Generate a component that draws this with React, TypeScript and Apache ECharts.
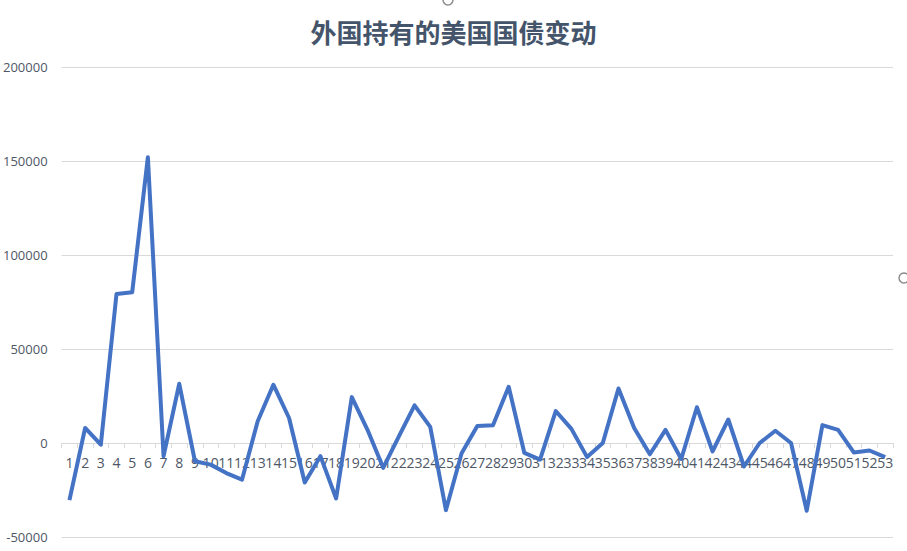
import { useEffect, useRef } from 'react'
import * as echarts from 'echarts'

const TITLE = '外国持有的美国国债变动'

const categories = Array.from({ length: 53 }, (_, i) => String(i + 1))

const values = [
  -30400, 8000, -900, 79300, 80200, 152000, -7000, 31500, -9700, -11500,
  -16000, -19500, 11600, 31000, 13300, -21000, -7000, -29500, 24400, 7000,
  -13200, 3500, 20000, 8600, -35700, -5500, 9000, 9500, 29900, -5300,
  -8800, 17000, 7500, -7500, 0, 29000, 8000, -6000, 7000, -8500,
  19000, -4500, 12500, -12500, 0, 6500, 0, -36000, 9500, 7000,
  -5000, -4000, -7500,
]

const Y_MIN = -50000
const Y_MAX = 200000
const Y_STEP = 50000

const GRID_TOP = 67
const GRID_BOTTOM = 14
const CHART_H = 551

const LABEL_COLOR = '#4E5766'

// 外国持有美国国债变动折线图
export default function App() {
  const elRef = useRef<HTMLDivElement>(null)

  useEffect(() => {
    if (!elRef.current) return
    const chart = echarts.init(elRef.current, undefined, { renderer: 'svg' })
    // 类目轴放在 0 值处：按网格高度算出向上的偏移
    const plotH = CHART_H - GRID_TOP - GRID_BOTTOM
    const zeroOffset = (plotH * (0 - Y_MIN)) / (Y_MAX - Y_MIN)
    chart.setOption({
      animation: false,
      backgroundColor: '#ffffff',
      title: {
        text: TITLE,
        left: 'center',
        top: 13,
        textStyle: {
          color: '#44546A',
          fontSize: 26,
          fontWeight: 'bold',
          fontFamily: 'Noto Sans CJK SC',
        },
      },
      grid: { left: 60, right: 14, top: GRID_TOP, bottom: GRID_BOTTOM, containLabel: false },
      xAxis: {
        type: 'category',
        data: categories,
        boundaryGap: true,
        position: 'bottom',
        offset: -zeroOffset,
        axisLine: { onZero: false, lineStyle: { color: '#D9D9D9', width: 1 } },
        axisTick: { show: true, length: 5, alignWithLabel: false, lineStyle: { color: '#D9D9D9' } },
        axisLabel: {
          interval: 0,
          hideOverlap: false,
          margin: 12,
          color: LABEL_COLOR,
          fontSize: 14,
          fontFamily: 'Open Sans',
        },
        splitLine: { show: false },
      },
      yAxis: {
        type: 'value',
        min: Y_MIN,
        max: Y_MAX,
        interval: Y_STEP,
        axisLine: { show: false },
        axisTick: { show: false },
        axisLabel: {
          margin: 14,
          color: LABEL_COLOR,
          fontSize: 13,
          fontFamily: 'Open Sans',
          formatter: (v: number) => String(v),
        },
        splitLine: { lineStyle: { color: '#D9D9D9', width: 1 } },
      },
      series: [
        {
          type: 'line',
          data: values,
          showSymbol: false,
          symbol: 'none',
          lineStyle: { color: '#4472C4', width: 4, join: 'round' },
          itemStyle: { color: '#4472C4' },
        },
      ],
      graphic: [
        {
          type: 'circle',
          shape: { cx: 448, cy: 0, r: 5 },
          style: { fill: '#ffffff', stroke: '#8C8C8C', lineWidth: 1.5 },
        },
        {
          type: 'circle',
          shape: { cx: 904, cy: 278, r: 5 },
          style: { fill: '#ffffff', stroke: '#8C8C8C', lineWidth: 1.5 },
        },
      ],
    })
    return () => {
      chart.dispose()
    }
  }, [])

  return (
    <div
      ref={elRef}
      style={{ position: 'absolute', left: 0, top: 0, width: 907, height: 551 }}
    />
  )
}
